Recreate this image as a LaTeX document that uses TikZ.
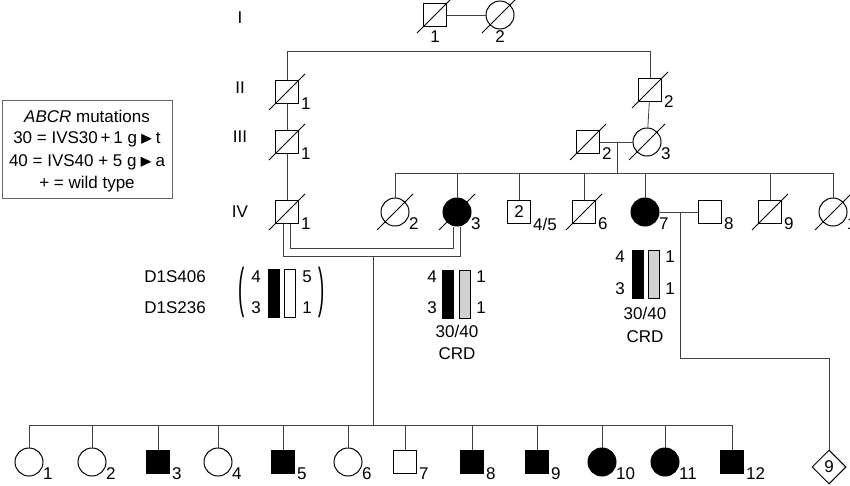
\documentclass[tikz,border=0pt]{standalone}
\usepackage{amssymb}
\usepackage{fontspec}
\setmainfont{Liberation Sans}
\usetikzlibrary{shapes.geometric,calc}
\tikzset{
  sq/.style={draw,rectangle,minimum size=23pt,inner sep=0pt,line width=1pt},
  ci/.style={draw,circle,minimum size=28pt,inner sep=0pt,line width=1pt},
  dm/.style={draw,diamond,minimum size=34pt,inner sep=0pt,line width=1pt},
  aff/.style={fill=black},
  ln/.style={line width=0.8pt,draw=black!75},
  bar/.style={draw,line width=1pt},
  txt/.style={inner sep=0pt,font=\fontsize{17}{20}\selectfont},
}
\newcommand\dd[1]{\draw[line width=0.8pt] (#1.center) ++(-18,18) -- ++(36,-36);}
\newcommand\lb[2]{\node[txt,anchor=west] at ($(#1.center)+(14,12)$) {#2};}
\begin{document}
\begin{tikzpicture}[x=1pt,y=-1pt]
\useasboundingbox (0,0) rectangle (850,485);
% legend
\node[draw=black!60,line width=0.8pt,minimum width=170pt,minimum height=98pt,anchor=north west] (leg) at (2,100) {};
\node[txt] (l1) at (87,116) {\textit{ABCR} mutations};
\node[txt] (l2) at (87,139) {30 = IVS30\,+\,1 g\,$\blacktriangleright$\,t};
\node[txt] (l3) at (87,162) {40 = IVS40 + 5 g\,$\blacktriangleright$\,a};
\node[txt] (l4) at (87,184) {+ = wild type};
% generation labels
\node[txt] (gI) at (240,18) {I};
\node[txt] (gII) at (240,88) {II};
\node[txt] (gIII) at (240,137) {III};
\node[txt] (gIV) at (240,212) {IV};
% gen I
\node[sq] (i1) at (435,15) {}; \dd{i1}
\node[ci] (i2) at (500,15) {}; \dd{i2}
\draw[ln] (i1) -- (i2);
\node[txt] (i1l) at (435,37) {1};
\node[txt] (i2l) at (500,37) {2};
\coordinate (s1a) at (287,51); \coordinate (s1b) at (650,51);
\draw[ln] (s1a) -- (s1b);
% gen II
\node[sq] (ii1) at (287,92) {}; \dd{ii1} \lb{ii1}{1}
\node[sq] (ii2) at (650,90) {}; \dd{ii2} \lb{ii2}{2}
\draw[ln] (s1a) -- (ii1); \draw[ln] (s1b) -- (ii2);
% gen III
\node[sq] (iii1) at (287,142) {}; \dd{iii1} \lb{iii1}{1}
\node[sq] (iii2) at (588,142) {}; \dd{iii2} \lb{iii2}{2}
\node[ci] (iii3) at (647,142) {}; \dd{iii3} \lb{iii3}{3}
\draw[ln] (ii1) -- (iii1); \draw[ln] (ii2) -- (iii3);
\draw[ln] (iii2) -- (iii3);
\coordinate (m3) at (617,142); \coordinate (m3b) at (617,173);
\draw[ln] (m3) -- (m3b);
% gen IV
\node[sq] (iv1) at (287,212) {}; \dd{iv1} \lb{iv1}{1}
\node[ci] (iv2) at (395,212) {}; \dd{iv2} \lb{iv2}{2}
\node[ci,aff] (iv3) at (457,212) {}; \dd{iv3} \lb{iv3}{3}
\node[sq,txt] (iv4) at (519,212) {2}; \lb{iv4}{4/5}
\node[sq] (iv6) at (584,212) {}; \dd{iv6} \lb{iv6}{6}
\node[ci,aff] (iv7) at (645,212) {}; \lb{iv7}{7}
\node[sq] (iv8) at (710,212) {}; \lb{iv8}{8}
\node[sq] (iv9) at (770,212) {}; \dd{iv9} \lb{iv9}{9}
\node[ci] (iv10) at (833,212) {}; \dd{iv10} \lb{iv10}{10}
\draw[ln] (iii1) -- (iv1);
\coordinate (s4a) at (395,173); \coordinate (s4b) at (833,173);
\draw[ln] (s4a) -- (s4b);
\foreach \n in {iv2,iv3,iv4,iv6,iv7,iv9,iv10}{\draw[ln] (\n.center |- s4a) -- (\n);}
\draw[ln] (iv7) -- (iv8);
% consanguineous double line
\draw[ln] (iv1.south) ++(-4,0) coordinate (c1) -- (c1 |- 0,256) -| ($(iv3.south)+(3,0)$);
\draw[ln] (iv1.south) ++(3,0) coordinate (c2) -- (c2 |- 0,248) -| ($(iv3.south)+(-4,0)$);
\coordinate (d1) at (373,256);
% gen V
\coordinate (s5a) at (29,425); \coordinate (s5b) at (732,425);
\draw[ln] (s5a) -- (s5b);
\draw[ln] (d1) -- (d1 |- s5a);
\foreach \n/\x/\t/\a in {v1/29/ci/,v2/92/ci/,v3/158/sq/aff,v4/218/ci/,v5/283/sq/aff,v6/348/ci/,v7/405/sq/,v8/472/sq/aff,v9/537/sq/aff,v10/602/ci/aff,v11/665/ci/aff,v12/732/sq/aff}{
  \node[\t,\a] (\n) at (\x,462) {};
  \draw[ln] (\x,425) -- (\n);
}
\foreach \n/\k in {v1/1,v2/2,v3/3,v4/4,v5/5,v6/6,v7/7,v8/8,v9/9,v10/10,v11/11,v12/12}{\lb{\n}{\k}}
\node[dm,txt] (v13) at (829,467) {9};
\coordinate (e1) at (680,212); \coordinate (e2) at (680,358); \coordinate (e3) at (829,358);
\draw[ln] (e1) -- (e2) -- (e3) -- (v13);
% haplotypes
\node[txt] (mk1) at (175,277) {D1S406};
\node[txt] (mk2) at (175,308) {D1S236};
\node[txt] (pl) at (242,292) {\scalebox{1.1}[3.2]{(}};
\node[txt] (pr) at (322,292) {\scalebox{1.1}[3.2]{)}};
\node[txt] (h1a) at (256,277) {4}; \node[txt] (h1b) at (256,308) {3};
\node[bar,fill=black,minimum width=11pt,minimum height=48pt,inner sep=0pt] (b1) at (274,293) {};
\node[bar,fill=white,minimum width=11pt,minimum height=48pt,inner sep=0pt] (b2) at (290,293) {};
\node[txt] (h1c) at (307,277) {5}; \node[txt] (h1d) at (307,308) {1};
% IV-3
\node[txt] (h3a) at (432,277) {4}; \node[txt] (h3b) at (432,308) {3};
\node[bar,fill=black,minimum width=11pt,minimum height=48pt,inner sep=0pt] (b3) at (448,294) {};
\node[bar,fill=black!18,minimum width=11pt,minimum height=48pt,inner sep=0pt] (b4) at (465,294) {};
\node[txt] (h3c) at (481,277) {1}; \node[txt] (h3d) at (481,308) {1};
\node[txt] (g3) at (457,331) {30/40};
\node[txt] (c3) at (457,354) {CRD};
% IV-7
\node[txt] (h7a) at (620,257) {4}; \node[txt] (h7b) at (620,289) {3};
\node[bar,fill=black,minimum width=11pt,minimum height=48pt,inner sep=0pt] (b5) at (638,274) {};
\node[bar,fill=black!18,minimum width=11pt,minimum height=48pt,inner sep=0pt] (b6) at (654,274) {};
\node[txt] (h7c) at (670,257) {1}; \node[txt] (h7d) at (670,289) {1};
\node[txt] (g7) at (645,313) {30/40};
\node[txt] (c7) at (645,337) {CRD};
\end{tikzpicture}
\end{document}
